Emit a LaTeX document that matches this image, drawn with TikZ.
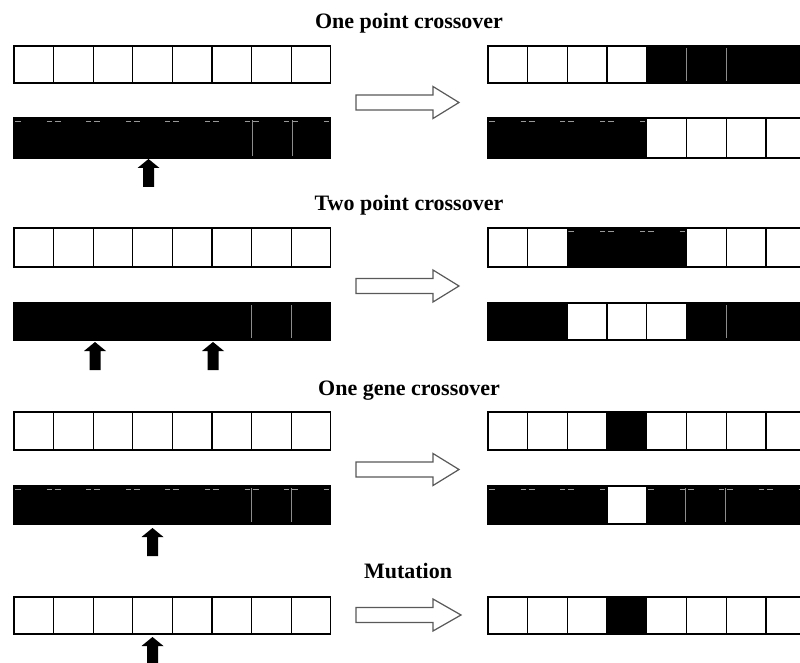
\documentclass[tikz,border=0pt]{standalone}
\usepackage{fontspec}
\setmainfont{Liberation Serif}
\newcommand\chromrow[5]{% x0, cell width, ytop, ybot, fills
  \foreach \f [count=\i from 0] in {#5} {
    \filldraw[fill=\f, cellline] ({#1+#2*\i},#3) rectangle ({#1+#2*(\i+1)},#4);
  }}
\newcommand\greyline[3]{\draw[greydiv] (#1,{#2+2}) -- (#1,{#3-2});}
% x0, cell width, ytop, ybot, first boundary, last boundary
\newcommand\bardashes[6]{\begin{scope}
  \clip ({#1+#2*#5+1},#3) rectangle ({#1+#2*#6-1},#4);
  \foreach \k in {#5,...,#6} {
    \draw[dashmark] ({#1+#2*\k-7},{#3+3}) -- ({#1+#2*\k-2},{#3+3}) ({#1+#2*\k+1},{#3+3}) -- ({#1+#2*\k+7},{#3+3});
  }\end{scope}}
\newcommand\uparr[3]{\fill[black] ({#2-5.5},{#3+28}) -- ({#2-5.5},{#3+9}) -- ({#2-11},{#3+9}) -- (#2,#3) -- ({#2+11},{#3+9}) -- ({#2+5.5},{#3+9}) -- ({#2+5.5},{#3+28}) -- cycle;
  \coordinate (#1) at (#2,#3);}
\newcommand\hollowarr[3]{\draw[hollow] (356,{#1-7.5}) -- (433,{#1-7.5}) -- (433,{#1-16}) -- (#2,#1) -- (433,{#1+16}) -- (433,{#1+7.5}) -- (356,{#1+7.5}) -- cycle;
  \coordinate (#3) at (#2,#1);}
\begin{document}
\begin{tikzpicture}[x=1pt,y=-1pt,
  cellline/.style={draw=black, line width=1.3pt},
  greydiv/.style={draw=black!45, line width=0.9pt},
  dashmark/.style={draw=black!40, line width=0.8pt},
  hollow/.style={draw=black!65, line width=1.2pt, fill=white, line join=miter},
  title/.style={font=\bfseries\fontsize{22}{26}\selectfont, anchor=base, inner sep=0pt}]
\clip (0,0) rectangle (800,663);
\fill[white] (0,0) rectangle (800,663);

% ---------- One point crossover ----------
\node[title] (t1) at (409,29) {One point crossover};
\chromrow{14}{39.6}{46}{83}{white,white,white,white,white,white,white,white}
\chromrow{14}{39.6}{118}{158}{black,black,black,black,black,black,black,black}
\greyline{252}{118}{158}\greyline{292}{118}{158}
\bardashes{14}{39.6}{118}{158}{0}{8}
\chromrow{488}{39.7}{46}{83}{white,white,white,white,black,black,black,black}
\greyline{686.5}{46}{83}\greyline{726}{46}{83}
\chromrow{488}{39.7}{118}{158}{black,black,black,black,white,white,white,white}
\bardashes{488}{39.7}{118}{158}{0}{4}
\hollowarr{102.5}{459}{h1}
\uparr{u1}{148.5}{159}

% ---------- Two point crossover ----------
\node[title] (t2) at (409,211) {Two point crossover};
\chromrow{14}{39.6}{228}{267}{white,white,white,white,white,white,white,white}
\chromrow{14}{39.6}{303}{340}{black,black,black,black,black,black,black,black}
\greyline{251}{303}{340}\greyline{291}{303}{340}
\chromrow{488}{39.7}{228}{267}{white,white,black,black,black,white,white,white}
\bardashes{488}{39.7}{228}{267}{2}{5}
\chromrow{488}{39.7}{303}{340}{black,black,white,white,white,black,black,black}
\greyline{726}{303}{340}
\hollowarr{286}{459}{h2}
\uparr{u2}{95}{342}
\uparr{u3}{213}{342}

% ---------- One gene crossover ----------
\node[title] (t3) at (409,395) {One gene crossover};
\chromrow{14}{39.6}{412}{450}{white,white,white,white,white,white,white,white}
\chromrow{14}{39.6}{486}{524}{black,black,black,black,black,black,black,black}
\greyline{251}{486}{524}\greyline{291}{486}{524}
\bardashes{14}{39.6}{486}{524}{0}{8}
\chromrow{488}{39.7}{412}{450}{white,white,white,black,white,white,white,white}
\chromrow{488}{39.7}{486}{524}{black,black,black,white,black,black,black,black}
\greyline{685.5}{486}{524}\greyline{725.5}{486}{524}
\bardashes{488}{39.7}{486}{524}{0}{3}
\bardashes{488}{39.7}{486}{524}{4}{8}
\hollowarr{469.5}{459}{h3}
\uparr{u4}{152.5}{528}

% ---------- Mutation ----------
\node[title] (t4) at (408,578) {Mutation};
\chromrow{14}{39.6}{597}{634}{white,white,white,white,white,white,white,white}
\chromrow{488}{39.7}{597}{634}{white,white,white,black,white,white,white,white}
\hollowarr{615}{461}{h4}
\uparr{u5}{152.5}{637}
\end{tikzpicture}
\end{document}
